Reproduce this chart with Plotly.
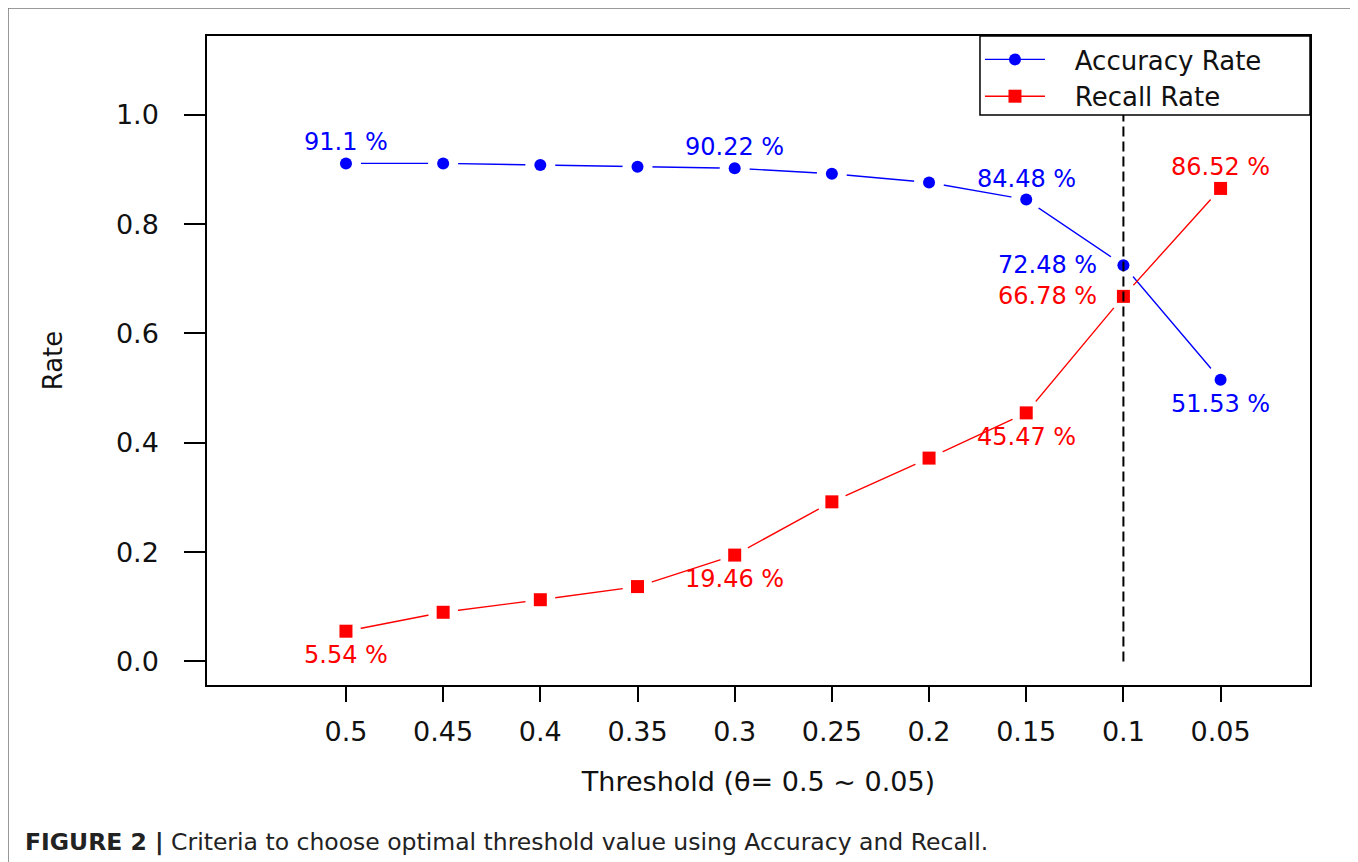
import plotly.graph_objects as go

# ---------------- data ----------------
thresholds = ["0.5", "0.45", "0.4", "0.35", "0.3", "0.25", "0.2", "0.15", "0.1", "0.05"]
accuracy = [0.911, 0.911, 0.908, 0.905, 0.9022, 0.892, 0.876, 0.8448, 0.7248, 0.5153]
recall = [0.0554, 0.090, 0.113, 0.137, 0.1946, 0.292, 0.372, 0.4547, 0.6678, 0.8652]
acc_labels = ["91.1 %", "", "", "", "90.22 %", "", "", "84.48 %", "72.48 %", "51.53 %"]
rec_labels = ["5.54 %", "", "", "", "19.46 %", "", "", "45.47 %", "66.78 %", "86.52 %"]
acc_label_pos = ["above", "", "", "", "above", "", "", "above", "left", "below"]
rec_label_pos = ["below", "", "", "", "below", "", "", "below", "left", "above"]
optimal_threshold = "0.1"
y_ticks = [0.0, 0.2, 0.4, 0.6, 0.8, 1.0]
y_ticktext = ["0.0", "0.2", "0.4", "0.6", "0.8", "1.0"]
series_names = ["Accuracy Rate", "Recall Rate"]

FONT = "DejaVu Sans"
BLUE = "#0000FF"
RED = "#FF0000"
PAD = "\u00a0\u00a0\u00a0"

xpos = list(range(1, len(thresholds) + 1))

fig = go.Figure()

# lines (legend entries)
fig.add_trace(go.Scatter(x=xpos, y=accuracy, mode="lines+markers", name=PAD + series_names[0],
                         line=dict(color=BLUE, width=1.4),
                         marker=dict(symbol="circle", size=12, color=BLUE)))
fig.add_trace(go.Scatter(x=xpos, y=recall, mode="lines+markers", name=PAD + series_names[1],
                         line=dict(color=RED, width=1.4),
                         marker=dict(symbol="square", size=13, color=RED)))
# white halos -> gaps between line and points (R type="b")
for ys in (accuracy, recall):
    fig.add_trace(go.Scatter(x=xpos, y=ys, mode="markers", showlegend=False, hoverinfo="skip",
                             marker=dict(symbol="circle", size=30, color="white")))
# points on top
fig.add_trace(go.Scatter(x=xpos, y=accuracy, mode="markers", showlegend=False,
                         marker=dict(symbol="circle", size=12, color=BLUE)))
fig.add_trace(go.Scatter(x=xpos, y=recall, mode="markers", showlegend=False,
                         marker=dict(symbol="square", size=13, color=RED)))
# optimal threshold dashed line
opt_x = thresholds.index(optimal_threshold) + 1
fig.add_trace(go.Scatter(x=[opt_x, opt_x], y=[y_ticks[0], y_ticks[-1]], mode="lines",
                         showlegend=False, hoverinfo="skip",
                         line=dict(color="black", width=2, dash="10px,5px")))

# value labels
annotations = []
def add_labels(values, labels, positions, color):
    for x, v, t, p in zip(xpos, values, labels, positions):
        if not t:
            continue
        a = dict(x=x, y=v, xref="x", yref="y", text=t, showarrow=False,
                 font=dict(family=FONT, size=24, color=color))
        if p == "above":
            a.update(yshift=21, xanchor="center", yanchor="middle")
        elif p == "below":
            a.update(yshift=-24, xanchor="center", yanchor="middle")
        elif p == "left":
            a.update(xshift=-24, xanchor="right", yanchor="middle")
        annotations.append(a)

add_labels(accuracy, acc_labels, acc_label_pos, BLUE)
add_labels(recall, rec_labels, rec_label_pos, RED)

# caption
annotations.append(dict(xref="paper", yref="paper", x=-0.1668, y=-0.2419,
                        xanchor="left", yanchor="middle", showarrow=False, align="left",
                        text="<b>FIGURE 2 |</b> Criteria to choose optimal threshold value using Accuracy and Recall.",
                        font=dict(family=FONT, size=23.5, color="#222222")))

shapes = [
    # outer grey frame
    dict(type="rect", xref="paper", yref="paper", x0=-0.1804, x1=1.0417, y0=-0.5, y1=1.0431,
         line=dict(color="#7a7a7a", width=1.5), fillcolor="rgba(0,0,0,0)", layer="below"),
    # legend box
    dict(type="rect", xref="paper", yref="paper", x0=0.7008, x1=1.0, y0=0.8783, y1=1.0,
         line=dict(color="black", width=1.5), fillcolor="white", layer="above"),
]

fig.update_layout(
    width=1358, height=862,
    margin=dict(l=199, r=56, t=28, b=185),
    paper_bgcolor="white", plot_bgcolor="white",
    font=dict(family=FONT, color="#111111"),
    showlegend=True,
    legend=dict(x=0.7008, xanchor="left", y=1.0, yanchor="top",
                bgcolor="rgba(0,0,0,0)", borderwidth=0,
                font=dict(family=FONT, size=26, color="#111111"),
                itemwidth=60, tracegroupgap=0),
    annotations=annotations,
    shapes=shapes,
)

fig.update_xaxes(range=[-0.43, 10.92], tickmode="array", tickvals=xpos, ticktext=thresholds,
                 ticks="outside", ticklen=15, tickwidth=1.5, tickcolor="black",
                 showline=True, linecolor="black", linewidth=1.5, mirror=True,
                 showgrid=False, zeroline=False,
                 tickfont=dict(family=FONT, size=27, color="#111111"),
                 ticklabelstandoff=7,
                 title=dict(text="Threshold (θ= 0.5 ~ 0.05)", standoff=26,
                            font=dict(family=FONT, size=27, color="#111111")))
fig.update_yaxes(range=[-0.043, 1.144], tickmode="array", tickvals=y_ticks, ticktext=y_ticktext,
                 ticks="outside", ticklen=21, tickwidth=1.5, tickcolor="black",
                 showline=True, linecolor="black", linewidth=1.5, mirror=True,
                 showgrid=False, zeroline=False,
                 tickfont=dict(family=FONT, size=27, color="#111111"),
                 ticklabelstandoff=20,
                 title=dict(text="Rate", standoff=46,
                            font=dict(family=FONT, size=26, color="#111111")))

fig.write_html("out.html")
